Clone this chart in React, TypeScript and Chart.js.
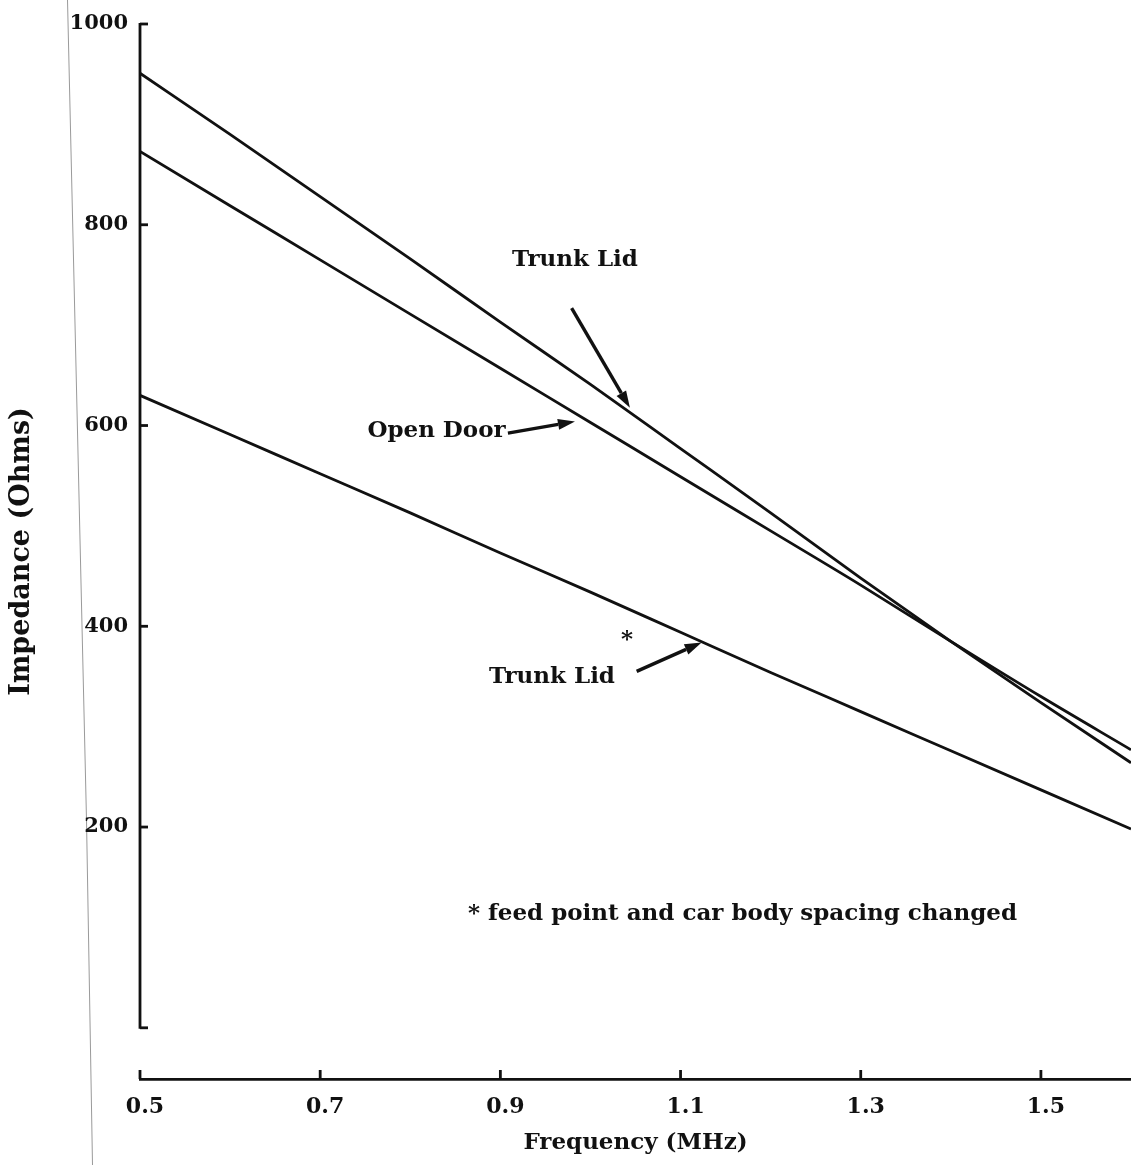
import { useEffect, useRef } from 'react';
import { Chart, registerables } from 'chart.js';

Chart.register(...registerables);

// ---- data ----
const FREQUENCIES = [0.5, 0.6, 0.7, 0.8, 0.9, 1.0, 1.1, 1.2, 1.3, 1.4, 1.5, 1.6];
const TRUNK_LID = [951, 890, 828, 766, 703, 641, 577, 513, 448, 385, 324, 264];
const OPEN_DOOR = [873, 819, 765, 711, 657, 603, 549, 495, 441, 385, 330, 277];
const TRUNK_LID_STAR = [630, 591, 552, 513, 473, 434, 394, 354, 315, 276, 237, 198];

const X_TICKS = [0.5, 0.7, 0.9, 1.1, 1.3, 1.5];
const Y_TICKS = [200, 400, 600, 800, 1000];
const Y_TICK_MARKS = [0, 200, 400, 600, 800, 1000];
const X_RANGE = [0.5, 1.6];
const Y_RANGE = [-51, 1000];
const Y_AXIS_SPAN = [0, 1000];

const X_TITLE = 'Frequency (MHz)';
const Y_TITLE = 'Impedance (Ohms)';

const NOTE_TEXTS = ['Trunk Lid', 'Open Door', '*', 'Trunk Lid', '* feed point and car body spacing changed'];
const NOTE_X = [0.9828, 0.8291, 1.0405, 0.9573, 1.1687];
const NOTE_Y = [764.6, 594.7, 386.5, 349.7, 113.8];

const ARROW_FROM_X = [0.9791, 0.9084, 1.0513];
const ARROW_FROM_Y = [716.9, 592.4, 355.1];
const ARROW_TO_X = [1.0438, 0.9828, 1.1234];
const ARROW_TO_Y = [617.6, 604.0, 383.9];

// ---- styles ----
const INK = '#111111';
const FONT_FAMILY = '"DejaVu Serif", serif';

const decorPlugin = {
  id: 'decor',
  beforeDraw(chart: any) {
    const { ctx, width, height } = chart;
    ctx.save();
    ctx.fillStyle = '#ffffff';
    ctx.fillRect(0, 0, width, height);
    // faint scan edge line of the original page
    ctx.strokeStyle = '#9a9a9a';
    ctx.lineWidth = 1;
    ctx.beginPath();
    ctx.moveTo(67.5, 0);
    ctx.lineTo(86.5, 820);
    ctx.lineTo(92.5, height);
    ctx.stroke();
    ctx.restore();
  },
  afterDraw(chart: any) {
    const { ctx } = chart;
    const xs = chart.scales.x;
    const ys = chart.scales.y;
    ctx.save();
    ctx.strokeStyle = INK;
    ctx.fillStyle = INK;
    ctx.lineWidth = 2.8;
    ctx.lineCap = 'butt';

    // y axis line (0..1000 only) with inward ticks
    const ax = xs.getPixelForValue(X_RANGE[0]);
    ctx.beginPath();
    ctx.moveTo(ax, ys.getPixelForValue(Y_AXIS_SPAN[0]) + 1);
    ctx.lineTo(ax, ys.getPixelForValue(Y_AXIS_SPAN[1]) - 1);
    ctx.stroke();
    Y_TICK_MARKS.forEach((v) => {
      const py = ys.getPixelForValue(v);
      ctx.beginPath();
      ctx.moveTo(ax, py);
      ctx.lineTo(ax + 8, py);
      ctx.stroke();
    });

    // x axis ticks pointing up
    const by = xs.top;
    X_TICKS.forEach((v) => {
      const px = xs.getPixelForValue(v);
      ctx.beginPath();
      ctx.moveTo(px, by);
      ctx.lineTo(px, by - 9);
      ctx.stroke();
    });

    // annotation texts
    ctx.font = `bold 23px ${FONT_FAMILY}`;
    ctx.textAlign = 'center';
    ctx.textBaseline = 'middle';
    NOTE_TEXTS.forEach((t, i) => {
      ctx.fillText(t, xs.getPixelForValue(NOTE_X[i]), ys.getPixelForValue(NOTE_Y[i]));
    });

    // arrows
    ARROW_FROM_X.forEach((_, i) => {
      const x1 = xs.getPixelForValue(ARROW_FROM_X[i]);
      const y1 = ys.getPixelForValue(ARROW_FROM_Y[i]);
      const x2 = xs.getPixelForValue(ARROW_TO_X[i]);
      const y2 = ys.getPixelForValue(ARROW_TO_Y[i]);
      const ang = Math.atan2(y2 - y1, x2 - x1);
      const headLen = 17;
      const headHalf = 5.5;
      const bx = x2 - headLen * Math.cos(ang);
      const byy = y2 - headLen * Math.sin(ang);
      ctx.lineWidth = 3.4;
      ctx.beginPath();
      ctx.moveTo(x1, y1);
      ctx.lineTo(bx, byy);
      ctx.stroke();
      ctx.beginPath();
      ctx.moveTo(x2, y2);
      ctx.lineTo(bx + headHalf * Math.sin(ang), byy - headHalf * Math.cos(ang));
      ctx.lineTo(bx - headHalf * Math.sin(ang), byy + headHalf * Math.cos(ang));
      ctx.closePath();
      ctx.fill();
    });
    ctx.restore();
  },
};

function series(values: number[]) {
  return FREQUENCIES.map((f, i) => ({ x: f, y: values[i] }));
}

export default function App() {
  const canvasRef = useRef<HTMLCanvasElement | null>(null);

  useEffect(() => {
    document.body.style.margin = '0';
    const canvas = canvasRef.current;
    if (!canvas) return;
    const lineStyle = {
      borderColor: INK,
      borderWidth: 2.8,
      pointRadius: 0,
      fill: false,
      cubicInterpolationMode: 'monotone' as const,
    };
    const chart = new Chart(canvas, {
      type: 'line',
      data: {
        datasets: [
          { label: 'Trunk Lid', data: series(TRUNK_LID), ...lineStyle },
          { label: 'Open Door', data: series(OPEN_DOOR), ...lineStyle },
          { label: 'Trunk Lid *', data: series(TRUNK_LID_STAR), ...lineStyle },
        ],
      },
      options: {
        responsive: false,
        animation: false,
        events: [],
        layout: { padding: { top: 24, left: 0, right: 0, bottom: 0 } },
        plugins: {
          legend: { display: false },
          tooltip: { enabled: false },
        },
        scales: {
          x: {
            type: 'linear',
            min: X_RANGE[0],
            max: X_RANGE[1],
            afterBuildTicks: (s: any) => {
              s.ticks = X_TICKS.map((v) => ({ value: v }));
            },
            afterFit: (s: any) => {
              s.height = 86;
              s.paddingLeft = 0;
              s.paddingRight = 0;
            },
            grid: { display: false, drawTicks: false },
            border: { display: true, width: 2.8, color: INK },
            ticks: {
              color: INK,
              font: { family: FONT_FAMILY, size: 22, weight: 'bold' },
              padding: 15,
              labelOffset: 5,
              maxRotation: 0,
              autoSkip: false,
              callback: (v: any) => Number(v).toFixed(1),
            },
            title: {
              display: true,
              text: X_TITLE,
              color: INK,
              font: { family: FONT_FAMILY, size: 23, weight: 'bold' },
              padding: { top: 0, bottom: 8 },
            },
          },
          y: {
            type: 'linear',
            min: Y_RANGE[0],
            max: Y_RANGE[1],
            afterBuildTicks: (s: any) => {
              s.ticks = Y_TICKS.map((v) => ({ value: v }));
            },
            afterFit: (s: any) => {
              s.width = 140;
              s.paddingTop = 0;
              s.paddingBottom = 0;
            },
            grid: { display: false, drawTicks: false },
            border: { display: false },
            ticks: {
              color: INK,
              font: { family: FONT_FAMILY, size: 21, weight: 'bold' },
              padding: 12,
              callback: (v: any) => String(v),
            },
            title: {
              display: true,
              text: Y_TITLE,
              color: INK,
              font: { family: FONT_FAMILY, size: 27, weight: 'bold' },
              padding: { top: 6, bottom: 0 },
            },
          },
        },
      },
      plugins: [decorPlugin],
    });
    return () => chart.destroy();
  }, []);

  return (
    <canvas
      ref={canvasRef}
      width={1131}
      height={1165}
      style={{ display: 'block', width: '1131px', height: '1165px' }}
    />
  );
}
